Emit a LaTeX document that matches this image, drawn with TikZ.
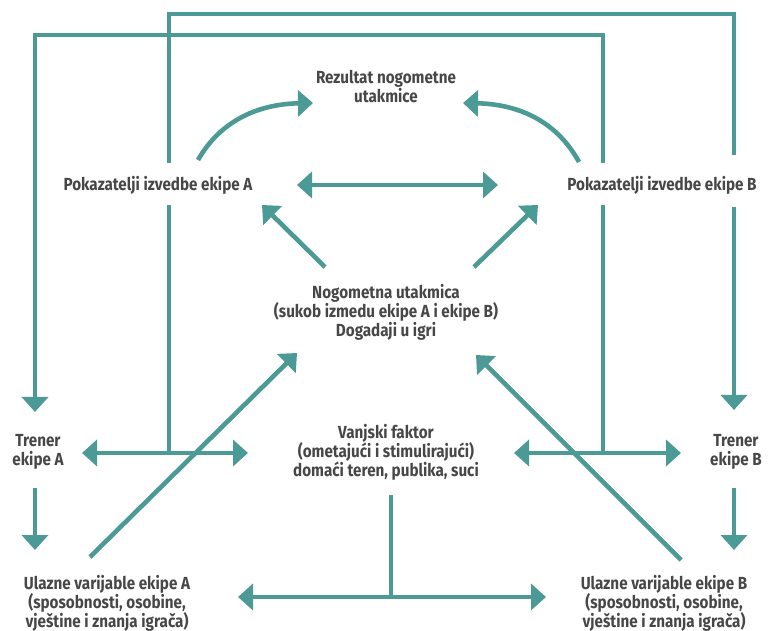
\documentclass[tikz,border=0pt]{standalone}
\usepackage{fontspec}
\setmainfont{Fira Sans}[FakeStretch=0.87]
\usetikzlibrary{arrows.meta}
\definecolor{tealc}{HTML}{4C9A95}
\definecolor{txtc}{HTML}{474747}
\begin{document}
\begin{tikzpicture}[x=1pt,y=-1pt,
  conn/.style={draw=tealc, line width=4.6pt},
  arr/.style={conn,-{Triangle[length=15pt,width=26pt]}},
  darr/.style={conn,{Triangle[length=15pt,width=26pt]}-{Triangle[length=15pt,width=26pt]}},
  lbl/.style={text=txtc, font=\fontsize{17.5}{19}\selectfont\bfseries, align=center, inner sep=0pt}]
\useasboundingbox (0,0) rectangle (772,631);

% text nodes
\node[lbl] (rez) at (386,87) {Rezultat nogometne\\utakmice};
\node[lbl] (pA) at (158,185) {Pokazatelji izvedbe ekipe A};
\node[lbl] (pB) at (662,185) {Pokazatelji izvedbe ekipe B};
\node[lbl] (nog) at (386,312) {Nogometna utakmica\\(sukob izmedu ekipe A i ekipe B)\\Dogadaji u igri};
\node[lbl] (van) at (386,452) {Vanjski faktor\\(ometajući i stimulirajući)\\domaći teren, publika, suci};
\node[lbl] (trA) at (38,452) {Trener\\ekipe A};
\node[lbl] (trB) at (736,452) {Trener\\ekipe B};
\node[lbl] (ulA) at (107,603) {Ulazne varijable ekipe A\\(sposobnosti, osobine,\\vještine i znanja igrača)};
\node[lbl] (ulB) at (664,603) {Ulazne varijable ekipe B\\(sposobnosti, osobine,\\vještine i znanja igrača)};

% coordinates
\coordinate (l1s) at (603,163);
\coordinate (l1a) at (603,35);
\coordinate (l1b) at (35,35);
\coordinate (l1e) at (35,412);
\coordinate (l1low) at (603,205);
\coordinate (l1j) at (603,453);

\coordinate (l2s) at (169,163);
\coordinate (l2a) at (169,14);
\coordinate (l2b) at (734,14);
\coordinate (l2c) at (734,155);
\coordinate (l2d) at (734,207);
\coordinate (l2e) at (734,410);
\coordinate (l2low) at (169,205);
\coordinate (l2j) at (169,453);

\coordinate (hAl) at (82,453);
\coordinate (hAr) at (248,453);
\coordinate (hBl) at (514,453);
\coordinate (hBr) at (681,453);

\coordinate (tA1) at (35,488);
\coordinate (tA2) at (35,550);
\coordinate (tB1) at (734,488);
\coordinate (tB2) at (734,550);

\coordinate (vs) at (391,495);
\coordinate (vj) at (391,597);
\coordinate (bl) at (238,597);
\coordinate (br) at (546,597);

\coordinate (dA1) at (90,557);
\coordinate (dA2) at (297,353);
\coordinate (dB1) at (681,560);
\coordinate (dB2) at (476,355);

\coordinate (sA1) at (325,267);
\coordinate (sA2) at (262,205);
\coordinate (sB1) at (474,267);
\coordinate (sB2) at (538,205);

\coordinate (pp1) at (297,185);
\coordinate (pp2) at (498,185);

\coordinate (cA1) at (198,160);
\coordinate (cA2) at (313,103);
\coordinate (cB1) at (579,162);
\coordinate (cB2) at (463,103);

% connectors
\draw[arr] (l1s) -- (l1a) -- (l1b) -- (l1e);
\draw[conn] (l1low) -- (l1j);
\draw[conn] (l2s) -- (l2a) -- (l2b) -- (l2c);
\draw[arr] (l2d) -- (l2e);
\draw[conn] (l2low) -- (l2j);

\draw[darr] (hAl) -- (hAr);
\draw[darr] (hBl) -- (hBr);

\draw[arr] (tA1) -- (tA2);
\draw[arr] (tB1) -- (tB2);

\draw[conn] (vs) -- (vj);
\draw[darr] (bl) -- (br);

\draw[arr] (dA1) -- (dA2);
\draw[arr] (dB1) -- (dB2);
\draw[arr] (sA1) -- (sA2);
\draw[arr] (sB1) -- (sB2);
\draw[darr] (pp1) -- (pp2);

\draw[arr] (cA1) .. controls (222,118) and (262,104) .. (cA2);
\draw[arr] (cB1) .. controls (555,118) and (514,104) .. (cB2);
\end{tikzpicture}
\end{document}
